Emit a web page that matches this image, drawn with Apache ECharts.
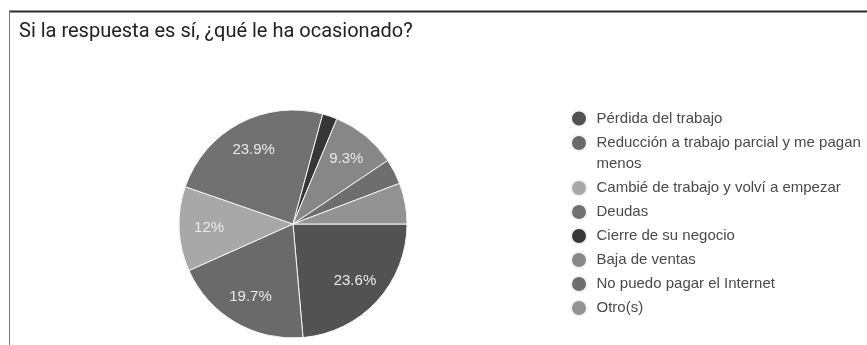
<!DOCTYPE html>
<html lang="es">

<head>
  <meta charset="UTF-8">
  <title>Si la respuesta es sí</title>
  <style media="screen">
    html, body { margin: 0; padding: 0; background: #fff; }
  </style>
</head>

<body>
  <div id="main" style="width:867px;height:345px;"></div>
</body>
<script src="https://cdn.jsdelivr.net/npm/echarts@6/dist/echarts.min.js"></script>

<script>
  var categories = [
    'Pérdida del trabajo',
    'Reducción a trabajo parcial y me pagan menos',
    'Cambié de trabajo y volví a empezar',
    'Deudas',
    'Cierre de su negocio',
    'Baja de ventas',
    'No puedo pagar el Internet',
    'Otro(s)'
  ];
  // porcentajes
  var values = [23.6, 19.7, 12, 23.9, 2.1, 9.3, 3.6, 5.8];
  var colors = ['#525252', '#6a6a6a', '#a8a8a8', '#717171', '#363636', '#878787', '#6e6e6e', '#939393'];
  // la leyenda parte esta entrada en dos lineas
  var wrapped = { 'Reducción a trabajo parcial y me pagan menos': ['Reducción a trabajo parcial y me pagan', 'menos'] };

  var pieData = categories.map(function (name, i) {
    return { name: name, value: values[i] };
  });

  var font = 'Arial, "Liberation Sans", sans-serif';
  var txt = { fontSize: 15, color: '#4a4a4a', fontFamily: font };
  var legendText = {
    fontSize: 15, color: '#4a4a4a', fontFamily: font, lineHeight: 16,
    rich: {
      a: Object.assign({ lineHeight: 42 }, txt),
      b: Object.assign({ lineHeight: 1 }, txt)
    }
  };
  function legendFormatter(name) {
    var w = wrapped[name];
    return w ? '{a|' + w[0] + '}\n{b|' + w[1] + '}' : name;
  }

  var myChart = echarts.init(document.getElementById('main'));

  myChart.setOption({
    animation: false,
    color: colors,
    title: {
      text: 'Si la respuesta es sí, ¿qué le ha ocasionado?',
      left: 19,
      top: 22,
      padding: 0,
      textStyle: { fontSize: 20, fontWeight: 'normal', color: '#222', fontFamily: 'Roboto, sans-serif' }
    },
    graphic: [
      { type: 'line', shape: { x1: 9, y1: 11.5, x2: 867, y2: 11.5 }, style: { stroke: '#2a2a2a', lineWidth: 2 } },
      { type: 'line', shape: { x1: 9.5, y1: 11, x2: 9.5, y2: 345 }, style: { stroke: '#777', lineWidth: 1 } }
    ],
    legend: [{
      orient: 'vertical',
      left: 570,
      top: 109.5,
      padding: 0,
      icon: 'circle',
      itemWidth: 25,
      itemHeight: 16,
      itemGap: -6,
      formatter: legendFormatter,
      textStyle: legendText,
      data: categories.slice(0, 2)
    }, {
      orient: 'vertical',
      left: 570,
      top: 179,
      padding: 0,
      icon: 'circle',
      itemWidth: 25,
      itemHeight: 16,
      itemGap: 6,
      textStyle: legendText,
      data: categories.slice(2)
    }],
    series: [{
      type: 'pie',
      center: [293, 224],
      radius: 114,
      startAngle: 0,
      clockwise: true,
      label: { show: false },
      labelLine: { show: false },
      itemStyle: { borderColor: '#f4f4f4', borderWidth: 1 },
      data: pieData
    }, {
      // capa transparente solo para colocar las etiquetas como en Google
      type: 'pie',
      center: [293, 224],
      radius: 162,
      startAngle: 0,
      clockwise: true,
      silent: true,
      legendHoverLink: false,
      minShowLabelAngle: 25,
      itemStyle: { color: 'transparent', borderWidth: 0 },
      label: {
        show: true,
        position: 'inside',
        formatter: '{d}%',
        fontSize: 15,
        color: '#eaeaea',
        fontFamily: font
      },
      labelLine: { show: false },
      data: pieData
    }]
  });
</script>

</html>
